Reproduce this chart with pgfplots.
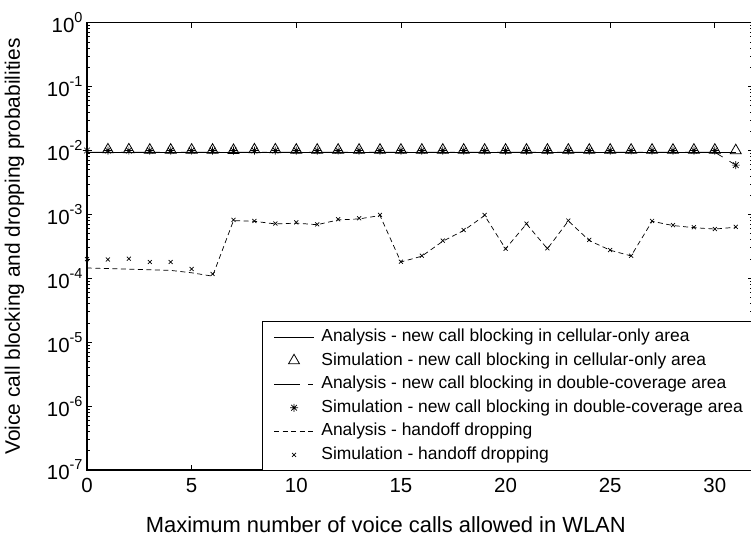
\documentclass[border=0pt]{standalone}
\usepackage{fontspec}
\setmainfont{Liberation Sans}
\usepackage{pgfplots}
\pgfplotsset{compat=1.18}

% eight-armed asterisk (plus and cross combined)
\pgfdeclareplotmark{mstar}{%
  \pgfpathmoveto{\pgfqpoint{0pt}{\pgfplotmarksize}}%
  \pgfpathlineto{\pgfqpoint{0pt}{-\pgfplotmarksize}}%
  \pgfpathmoveto{\pgfqpoint{\pgfplotmarksize}{0pt}}%
  \pgfpathlineto{\pgfqpoint{-\pgfplotmarksize}{0pt}}%
  \pgfpathmoveto{\pgfqpoint{0.707\pgfplotmarksize}{0.707\pgfplotmarksize}}%
  \pgfpathlineto{\pgfqpoint{-0.707\pgfplotmarksize}{-0.707\pgfplotmarksize}}%
  \pgfpathmoveto{\pgfqpoint{0.707\pgfplotmarksize}{-0.707\pgfplotmarksize}}%
  \pgfpathlineto{\pgfqpoint{-0.707\pgfplotmarksize}{0.707\pgfplotmarksize}}%
  \pgfusepathqstroke}

\newcommand{\ex}[1]{10\raisebox{10bp}{\fontsize{14.5}{14.5}\selectfont #1}}

% new call blocking, cellular-only area
\pgfplotstableread{
x y
0 9.4e-3
31 9.4e-3
}\cellAna
\pgfplotstableread{
x y
-0.33 1.00e-2
1 1.03e-2
2 1.03e-2
3 1.02e-2
4 1.02e-2
5 1.02e-2
6 1.02e-2
7 1.01e-2
8 1.03e-2
9 1.03e-2
10 1.02e-2
11 1.02e-2
12 1.02e-2
13 1.02e-2
14 1.02e-2
15 1.02e-2
16 1.02e-2
17 1.02e-2
18 1.02e-2
19 1.02e-2
20 1.02e-2
21 1.02e-2
22 1.02e-2
23 1.02e-2
24 1.02e-2
25 1.02e-2
26 1.02e-2
27 1.02e-2
28 1.02e-2
29 1.02e-2
30 1.02e-2
31 1.00e-2
}\cellSim
% new call blocking, double-coverage area
\pgfplotstableread{
x y
0 9.4e-3
30 9.4e-3
31 5.9e-3
}\dualAna
\pgfplotstableread{
x y
0 1.00e-2
1 1.00e-2
2 1.00e-2
3 1.00e-2
4 1.00e-2
5 1.00e-2
6 1.00e-2
7 1.00e-2
8 1.00e-2
9 1.00e-2
10 1.00e-2
11 1.00e-2
12 1.00e-2
13 1.00e-2
14 1.00e-2
15 1.00e-2
16 1.00e-2
17 1.00e-2
18 1.00e-2
19 1.00e-2
20 1.00e-2
21 1.00e-2
22 1.00e-2
23 1.00e-2
24 1.00e-2
25 1.00e-2
26 1.00e-2
27 1.00e-2
28 1.00e-2
29 1.00e-2
30 1.00e-2
31 5.9e-3
}\dualSim
% handoff dropping
\pgfplotstableread{
x y
0 1.45e-4
1 1.42e-4
2 1.39e-4
3 1.36e-4
4 1.33e-4
5 1.22e-4
6 1.08e-4
7 8.0e-4
8 7.8e-4
9 7.1e-4
10 7.3e-4
11 6.9e-4
12 8.2e-4
13 8.5e-4
14 9.6e-4
15 1.80e-4
16 2.22e-4
17 3.8e-4
18 5.6e-4
19 9.6e-4
20 2.9e-4
21 7.1e-4
22 2.9e-4
23 7.9e-4
24 3.9e-4
25 2.75e-4
26 2.24e-4
27 7.8e-4
28 6.7e-4
29 6.2e-4
30 5.9e-4
31 6.3e-4
}\hoAna
\pgfplotstableread{
x y
0 2.00e-4
1 1.97e-4
2 2.03e-4
3 1.80e-4
4 1.80e-4
5 1.40e-4
6 1.17e-4
7 8.2e-4
8 7.9e-4
9 7.2e-4
10 7.5e-4
11 7.0e-4
12 8.4e-4
13 8.7e-4
14 9.8e-4
15 1.82e-4
16 2.26e-4
17 3.9e-4
18 5.7e-4
19 9.8e-4
20 2.9e-4
21 7.2e-4
22 2.95e-4
23 8.0e-4
24 4.0e-4
25 2.77e-4
26 2.26e-4
27 7.9e-4
28 6.8e-4
29 6.3e-4
30 5.9e-4
31 6.4e-4
}\hoSim

\begin{document}
\begin{tikzpicture}
\begin{axis}[
  scale only axis,
  width=665.5bp, height=447.3bp,
  ymode=log,
  xmin=0, xmax=31.8, ymin=1e-7, ymax=1,
  xtick={0,5,10,15,20,25,30},
  ytick={1e-7,1e-6,1e-5,1e-4,1e-3,1e-2,1e-1,1},
  yticklabels={\ex{-7},\ex{-6},\ex{-5},\ex{-4},\ex{-3},\ex{-2},\ex{-1},\ex{0}},
  /pgf/number format/assume math mode=true,
  tick align=inside,
  major tick length=5bp, minor tick length=3bp,
  every tick/.style={black, line width=0.8bp},
  axis line style={line width=1.5bp},
  tick label style={font=\fontsize{20.5}{24}\selectfont},
  xticklabel style={yshift=-5bp},
  yticklabel style={xshift=-1bp},
  xlabel={Maximum number of voice calls allowed in WLAN},
  ylabel={Voice call blocking and dropping probabilities},
  xlabel style={font=\fontsize{22}{26}\selectfont,
    at={(rel axis cs:0.449,-0.1386)}, anchor=base},
  ylabel style={font=\fontsize{21}{25}\selectfont,
    at={(rel axis cs:-0.1008,0.5)}, anchor=base},
  clip mode=individual,
  legend image code/.code={%
    \draw[mark repeat=2,mark phase=2,#1] plot coordinates {(0bp,0bp) (20bp,0bp) (40bp,0bp)};},
  legend cell align=left,
  legend style={at={(rel axis cs:0.263,0.3331)}, anchor=north west,
    font=\fontsize{17.5}{20}\selectfont,
    draw=black, line width=1.3bp,
    inner xsep=11bp, inner ysep=3.5bp,
    row sep=0bp, column sep=5bp,
    nodes={inner xsep=2bp, inner ysep=3.3bp, text height=13bp, text depth=4bp}},
]
\coordinate (sw) at (rel axis cs:0,0);
\coordinate (ne) at (rel axis cs:1,1);

\addplot[black, line width=0.7bp] table {\cellAna};
\addlegendentry{Analysis - new call blocking in cellular-only area}
\addplot[black, only marks, mark=triangle, mark size=6.3bp, mark options={line width=0.8bp}] table {\cellSim};
\addlegendentry{Simulation - new call blocking in cellular-only area}
\addplot[black, line width=0.7bp, dash pattern=on 26bp off 8bp on 5bp off 8bp] table {\dualAna};
\addlegendentry{Analysis - new call blocking in double-coverage area}
\addplot[black, only marks, mark=mstar, mark size=4bp, mark options={line width=0.7bp}] table {\dualSim};
\addlegendentry{Simulation - new call blocking in double-coverage area}
\addplot[black, line width=0.7bp, dash pattern=on 5bp off 3.5bp] table {\hoAna};
\addlegendentry{Analysis - handoff dropping}
\addplot[black, only marks, mark=x, mark size=2.8bp, mark options={line width=0.7bp}] table {\hoSim};
\addlegendentry{Simulation - handoff dropping}
\end{axis}
\pgfresetboundingbox
\path[use as bounding box] ([xshift=-87bp,yshift=-73bp]sw) rectangle ([xshift=-1.5bp,yshift=22.7bp]ne);
\end{tikzpicture}
\end{document}
